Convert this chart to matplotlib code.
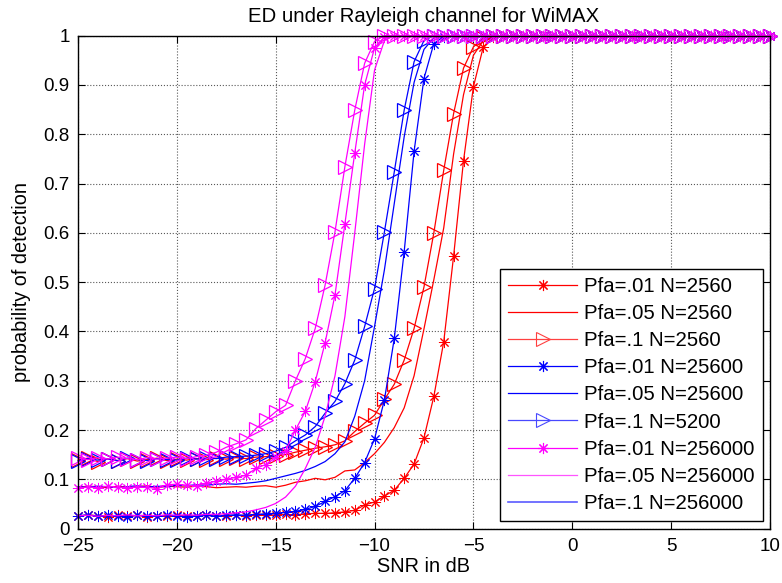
import numpy as np
import matplotlib
matplotlib.use('Agg')
import matplotlib.pyplot as plt
from matplotlib.lines import Line2D
from matplotlib.ticker import FuncFormatter

plt.rcParams['font.family'] = ['Liberation Sans', 'DejaVu Sans']

# SNR grid, -25:0.5:10 dB
snr = np.arange(-25, 10.5, 0.5)

# N=2560 (red)
pd_r_01 = [0.025, 0.028, 0.026, 0.024, 0.027, 0.025, 0.027, 0.024, 0.026, 0.025,
           0.027, 0.025, 0.026, 0.027, 0.025, 0.026, 0.027, 0.026, 0.028, 0.027,
           0.028, 0.029, 0.028, 0.030, 0.031, 0.031, 0.032, 0.034, 0.037, 0.048,
           0.054, 0.066, 0.078, 0.102, 0.131, 0.184, 0.268, 0.379, 0.553, 0.746,
           0.896, 0.977, 0.997,
           1, 1, 1, 1, 1,  1, 1, 1, 1, 1,
           1, 1, 1, 1, 1,  1, 1, 1, 1, 1,
           1, 1, 1, 1, 1,  1, 1, 1]
pd_r_05 = [0.084, 0.086, 0.085, 0.083, 0.086, 0.084, 0.085, 0.087, 0.083, 0.086,
           0.085, 0.084, 0.086, 0.085, 0.083, 0.084, 0.085, 0.084, 0.086, 0.087,
           0.084, 0.088, 0.094, 0.097, 0.102, 0.099, 0.104, 0.117, 0.119, 0.134,
           0.152, 0.175, 0.205, 0.245, 0.310, 0.405, 0.505, 0.610, 0.760, 0.880,
           0.960, 0.990, 0.999,
           1, 1, 1, 1, 1,  1, 1, 1, 1, 1,
           1, 1, 1, 1, 1,  1, 1, 1, 1, 1,
           1, 1, 1, 1, 1,  1, 1, 1]
pd_r_1 = [0.139, 0.143, 0.136, 0.141, 0.138, 0.142, 0.137, 0.140, 0.143, 0.138,
          0.141, 0.139, 0.142, 0.140, 0.143, 0.141, 0.144, 0.142, 0.145, 0.146,
          0.148, 0.150, 0.155, 0.159, 0.163, 0.166, 0.170, 0.178, 0.197, 0.214,
          0.230, 0.262, 0.293, 0.342, 0.406, 0.490, 0.600, 0.727, 0.842, 0.934,
          0.977, 0.995,
          1, 1, 1, 1, 1,  1, 1, 1, 1, 1,
          1, 1, 1, 1, 1,  1, 1, 1, 1, 1,
          1, 1, 1, 1, 1,  1, 1, 1, 1]

# N=25600 / 5200 (blue)
pd_b_01 = [0.026, 0.028, 0.025, 0.027, 0.026, 0.024, 0.027, 0.026, 0.025, 0.027,
           0.026, 0.024, 0.026, 0.027, 0.025, 0.027, 0.028, 0.027, 0.029, 0.030,
           0.031, 0.033, 0.035, 0.039, 0.045, 0.055, 0.065, 0.077, 0.102, 0.134,
           0.182, 0.261, 0.386, 0.562, 0.765, 0.913, 0.984, 0.998,
           1, 1, 1, 1, 1,  1, 1, 1, 1, 1,
           1, 1, 1, 1, 1,  1, 1, 1, 1, 1,
           1, 1, 1, 1, 1,  1, 1, 1, 1, 1,
           1, 1, 1]
pd_b_05 = [0.085, 0.084, 0.086, 0.085, 0.083, 0.085, 0.087, 0.084, 0.086, 0.085,
           0.088, 0.087, 0.089, 0.088, 0.090, 0.091, 0.090, 0.092, 0.094, 0.097,
           0.102, 0.107, 0.112, 0.118, 0.126, 0.136, 0.152, 0.176, 0.228, 0.300,
           0.410, 0.525, 0.660, 0.795, 0.905, 0.972, 0.996,
           1, 1, 1, 1, 1,  1, 1, 1, 1, 1,
           1, 1, 1, 1, 1,  1, 1, 1, 1, 1,
           1, 1, 1, 1, 1,  1, 1, 1, 1, 1,
           1, 1, 1, 1]
pd_b_1 = [0.137, 0.142, 0.139, 0.141, 0.138, 0.143, 0.140, 0.138, 0.142, 0.140,
          0.139, 0.143, 0.141, 0.143, 0.142, 0.145, 0.146, 0.147, 0.149, 0.152,
          0.157, 0.165, 0.178, 0.190, 0.207, 0.234, 0.258, 0.294, 0.342, 0.410,
          0.487, 0.602, 0.724, 0.849, 0.947, 0.990,
          1, 1, 1, 1, 1,  1, 1, 1, 1, 1,
          1, 1, 1, 1, 1,  1, 1, 1, 1, 1,
          1, 1, 1, 1, 1,  1, 1, 1, 1, 1,
          1, 1, 1, 1, 1]

# N=256000 (magenta)
pd_m_01 = [0.082, 0.085, 0.083, 0.086, 0.084, 0.083, 0.085, 0.084, 0.081, 0.089,
           0.090, 0.088, 0.087, 0.092, 0.096, 0.100, 0.104, 0.108, 0.122, 0.130,
           0.145, 0.158, 0.200, 0.238, 0.298, 0.377, 0.474, 0.618, 0.762, 0.900,
           0.975, 0.997,
           1, 1, 1, 1, 1,  1, 1, 1, 1, 1,
           1, 1, 1, 1, 1,  1, 1, 1, 1, 1,
           1, 1, 1, 1, 1,  1, 1, 1, 1, 1,
           1, 1, 1, 1, 1,  1, 1, 1, 1]
pd_m_05 = [0.026, 0.027, 0.025, 0.027, 0.026, 0.028, 0.026, 0.027, 0.026, 0.028,
           0.027, 0.028, 0.027, 0.029, 0.029, 0.030, 0.032, 0.034, 0.038, 0.043,
           0.051, 0.064, 0.086, 0.122, 0.165, 0.228, 0.310, 0.430, 0.600, 0.780,
           0.930, 0.990,
           1, 1, 1, 1, 1,  1, 1, 1, 1, 1,
           1, 1, 1, 1, 1,  1, 1, 1, 1, 1,
           1, 1, 1, 1, 1,  1, 1, 1, 1, 1,
           1, 1, 1, 1, 1,  1, 1, 1, 1]
pd_m_1 = [0.143, 0.140, 0.144, 0.141, 0.145, 0.142, 0.140, 0.144, 0.141, 0.143,
          0.145, 0.142, 0.146, 0.149, 0.155, 0.165, 0.172, 0.180, 0.203, 0.220,
          0.237, 0.250, 0.300, 0.345, 0.406, 0.494, 0.602, 0.734, 0.849, 0.944,
          0.988,
          1, 1, 1, 1, 1,  1, 1, 1, 1, 1,
          1, 1, 1, 1, 1,  1, 1, 1, 1, 1,
          1, 1, 1, 1, 1,  1, 1, 1, 1, 1,
          1, 1, 1, 1, 1,  1, 1, 1, 1, 1]

legend_labels = ['Pfa=.01 N=2560', 'Pfa=.05 N=2560', 'Pfa=.1 N=2560',
                 'Pfa=.01 N=25600', 'Pfa=.05 N=25600', 'Pfa=.1 N=5200',
                 'Pfa=.01 N=256000', 'Pfa=.05 N=256000', 'Pfa=.1 N=256000']

RED, BLUE, MAG = '#ff0000', '#0000ff', '#ff00ff'
ast = (8, 2, 0)  # matlab style asterisk
lw = 0.9

fig = plt.figure(figsize=(7.82, 5.83), dpi=100)
ax = fig.add_axes([0.0997, 0.0933, 0.8849, 0.8456])

curves = [(pd_r_01, RED, ast), (pd_r_05, RED, None), (pd_r_1, RED, '>'),
          (pd_b_01, BLUE, ast), (pd_b_05, BLUE, None), (pd_b_1, BLUE, '>'),
          (pd_m_01, MAG, ast), (pd_m_05, MAG, None), (pd_m_1, MAG, '>')]
for y, c, mk in curves:
    if mk is None:
        ax.plot(snr, y, color=c, lw=lw, clip_on=False)
    elif mk == '>':
        ax.plot(snr, y, color=c, lw=lw, marker='>', ms=10, mfc='none', mew=0.9, clip_on=False)
    else:
        ax.plot(snr, y, color=c, lw=lw, marker=mk, ms=8, mew=0.7, clip_on=False)

ax.set_xlim(-25, 10)
ax.set_ylim(0, 1)
ax.set_xticks(np.arange(-25, 11, 5))
ax.set_yticks(np.arange(0, 1.01, 0.1))
ax.yaxis.set_major_formatter(FuncFormatter(lambda v, p: '%g' % round(v, 1)))
ax.tick_params(direction='in', top=True, right=True, length=5, labelsize=13.5, width=0.8)
ax.tick_params(axis='x', pad=7)
ax.tick_params(axis='y', pad=6)
ax.grid(True, linestyle=':', color='0.35', lw=0.8)
for s in ax.spines.values():
    s.set_linewidth(1.0)

ax.set_title('ED under Rayleigh channel for WiMAX', fontsize=14.7, pad=9.5)
ax.set_xlabel('SNR in dB', fontsize=14.3, labelpad=1)
ax.set_ylabel('probability of detection', fontsize=14.3, labelpad=9)

# legend handles drawn as they appear in the original legend
leg_styles = [(RED, ast, 8), (RED, None, 0), ('#ff4040', '>', 10),
              (BLUE, ast, 8), (BLUE, None, 0), ('#4848ff', '>', 10),
              (MAG, ast, 8), ('#ff55ff', None, 0), ('#5a5aff', None, 0)]
handles = []
for c, mk, ms in leg_styles:
    if mk is None:
        handles.append(Line2D([], [], color=c, lw=1.2 if c == '#5a5aff' else lw))
    else:
        handles.append(Line2D([], [], color=c, lw=lw, marker=mk, ms=ms,
                              mfc='none' if mk == '>' else c, mew=0.8))
leg = ax.legend(handles, legend_labels, loc='lower right', bbox_to_anchor=(0.99, 0.015),
                borderaxespad=0, fontsize=14.7, handlelength=3.4, handletextpad=0.35,
                labelspacing=0.4, borderpad=0.4, fancybox=False, framealpha=1,
                edgecolor='k')
leg.get_frame().set_linewidth(1.0)

fig.savefig('out.png', dpi=100)
